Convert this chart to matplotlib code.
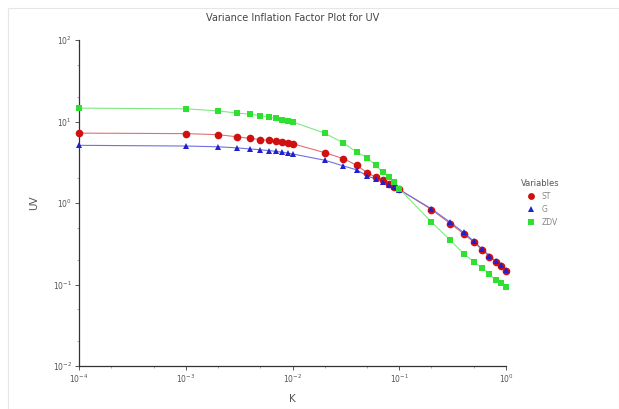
import matplotlib
matplotlib.use("Agg")
import matplotlib.pyplot as plt
from matplotlib.ticker import LogLocator, NullFormatter
from matplotlib.patches import Rectangle

K = [0.0001, 0.001, 0.002, 0.003, 0.004, 0.005, 0.006, 0.007, 0.008, 0.009, 0.01,
     0.02, 0.03, 0.04, 0.05, 0.06, 0.07, 0.08, 0.09, 0.1,
     0.2, 0.3, 0.4, 0.5, 0.6, 0.7, 0.8, 0.9, 1.0]

vif_st = [7.2, 7.1, 6.9, 6.5, 6.2, 6.0, 5.85, 5.7, 5.55, 5.45, 5.35,
          4.15, 3.5, 2.9, 2.35, 2.08, 1.9, 1.72, 1.58, 1.47,
          0.83, 0.56, 0.42, 0.33, 0.265, 0.22, 0.19, 0.168, 0.148]
vif_g = [5.1, 5.0, 4.9, 4.75, 4.6, 4.5, 4.4, 4.3, 4.2, 4.1, 4.0,
         3.35, 2.85, 2.55, 2.15, 1.97, 1.82, 1.68, 1.56, 1.46,
         0.85, 0.58, 0.435, 0.34, 0.27, 0.225, 0.193, 0.172, 0.152]
vif_zdv = [14.6, 14.3, 13.5, 12.7, 12.3, 11.8, 11.3, 10.9, 10.5, 10.2, 9.9,
           7.2, 5.45, 4.2, 3.6, 2.9, 2.4, 2.1, 1.8, 1.5,
           0.585, 0.35, 0.24, 0.19, 0.16, 0.135, 0.112, 0.103, 0.093]

series_names = ["ST", "G", "ZDV"]
title = "Variance Inflation Factor Plot for UV"

fig = plt.figure(figsize=(6.19, 4.09), dpi=100)
fig.patches.append(Rectangle((8/619, 0.0), 1 - 8/619, 1 - 8/409, transform=fig.transFigure,
                             fill=False, edgecolor="#e6e6e6", linewidth=0.8))
ax = fig.add_axes([79/619, 43/409, (506-79)/619, (366-40)/409])

styles = [
    dict(color="#d01010", marker="o", ms=5.5, lc="#e07070"),
    dict(color="#2020d0", marker="^", ms=5.0, lc="#7070e0"),
    dict(color="#30e030", marker="s", ms=4.8, lc="#80e880"),
]
for vals, name, st in zip([vif_st, vif_g, vif_zdv], series_names, styles):
    ax.plot(K, vals, color=st["lc"], lw=0.8, zorder=1)
    ax.plot(K, vals, linestyle="none", marker=st["marker"], ms=st["ms"],
            color=st["color"], markeredgewidth=0, label=name, zorder=3, clip_on=False)

ax.set_xscale("log")
ax.set_yscale("log")
ax.set_xlim(1e-4, 1.0)
ax.set_ylim(1e-2, 1e2)
ax.xaxis.set_major_locator(LogLocator(base=10, numticks=10))
ax.yaxis.set_major_locator(LogLocator(base=10, numticks=10))
ax.xaxis.set_minor_locator(LogLocator(base=10, subs=(2, 5), numticks=10))
ax.yaxis.set_minor_locator(LogLocator(base=10, subs=(2, 5), numticks=10))
ax.xaxis.set_minor_formatter(NullFormatter())
ax.yaxis.set_minor_formatter(NullFormatter())

for s in ["top", "right"]:
    ax.spines[s].set_visible(False)
for s in ["left", "bottom"]:
    ax.spines[s].set_color("#333333")
    ax.spines[s].set_linewidth(0.9)
ax.tick_params(which="major", direction="out", length=3, width=0.7, color="#555555",
               labelsize=5.5, labelcolor="#555555", pad=2)
ax.tick_params(which="minor", direction="out", length=1.5, width=0.5, color="#888888")

ax.set_xlabel("K", fontsize=7.5, color="#555555", labelpad=6)
ax.set_ylabel("UV", fontsize=7.5, color="#555555", labelpad=10)
ax.set_title(title, fontsize=7, color="#444444", pad=14)

leg = ax.legend(title="Variables", loc="center left", bbox_to_anchor=(1.02, 0.5),
                frameon=False, fontsize=5.5, title_fontsize=6, handletextpad=0.3,
                markerscale=0.9, labelspacing=0.5)
for t in leg.get_texts():
    t.set_color("#888888")
leg.get_title().set_color("#555555")

fig.savefig("out.png", dpi=100)
